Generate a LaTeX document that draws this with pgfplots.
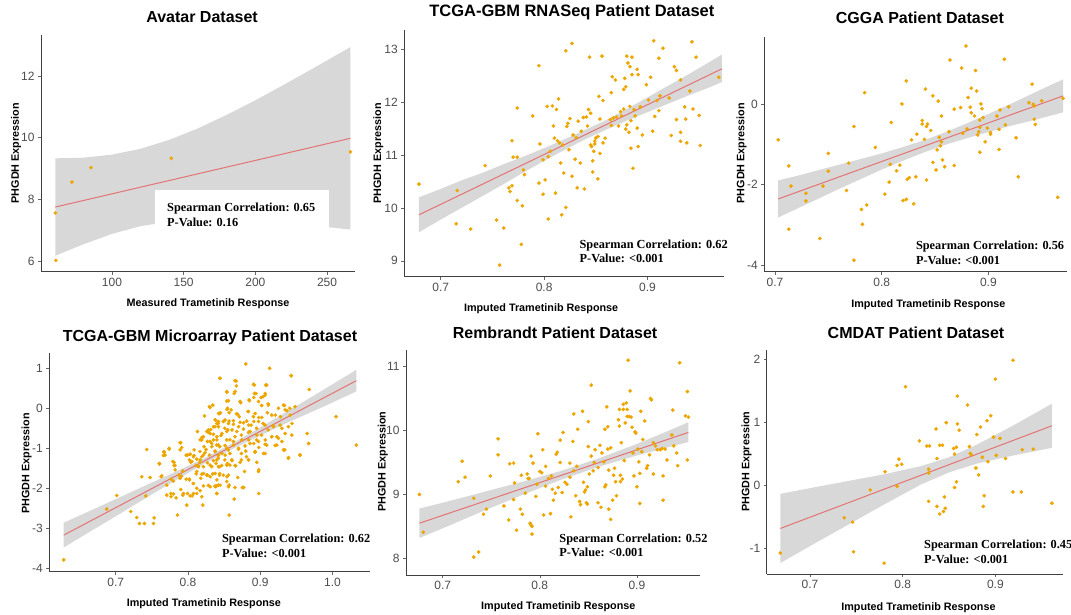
\documentclass[border=0pt]{standalone}
\usepackage{fontspec}
\setmainfont{Liberation Sans}
\newfontfamily\timesb{Liberation Serif}
\usepackage{pgfplots}
\pgfplotsset{compat=1.18}
\definecolor{ptc}{HTML}{EDA500}
\definecolor{linec}{HTML}{E47373}
\definecolor{bandc}{HTML}{D8D8D8}
\definecolor{tickc}{HTML}{4D4D4D}
\tikzset{note/.style={anchor=west, font=\timesb\bfseries\fontsize{12.3}{14}\selectfont, inner sep=0pt}}
\pgfplotsset{
 panel/.style={
  scale only axis, anchor=south west, clip=false,
  axis x line*=bottom, axis y line*=left,
  axis line style={-, draw=black!75, line width=0.8pt},
  every tick/.style={draw=black!60, line width=0.6pt},
  tick align=outside, major tick length=3pt,
  tick label style={font=\fontsize{12}{14}\selectfont, text=tickc},
  /pgf/number format/assume math mode=true,
  title style={font=\bfseries\fontsize{16}{19}\selectfont, anchor=center},
  xlabel style={font=\bfseries\fontsize{10.8}{13}\selectfont, anchor=center},
  ylabel style={font=\bfseries\fontsize{10.8}{13}\selectfont, anchor=center},
  xlabel={Imputed Trametinib Response},
  ylabel={PHGDH Expression},
 },
 fracx/.style={xticklabel style={/pgf/number format/.cd, fixed, fixed zerofill, precision=1}},
 band/.style={draw=none, fill=bandc, forget plot},
 fit/.style={draw=linec, line width=1pt, no marks},
 pts/.style={only marks, mark=*, color=ptc, mark size=1.7pt, mark options={solid, draw=ptc, fill=ptc, line width=0.3pt}},
}
\begin{document}
\begin{tikzpicture}
\path[use as bounding box] (0,0) rectangle (1071pt,615pt);

% ---------- Panel 1: Avatar ----------
\begin{axis}[panel, at={(41pt,343.3pt)}, width=314pt, height=236.7pt,
  xmin=50.5, xmax=269.5, ymin=5.653, ymax=13.33,
  xtick={100,150,200,250}, ytick={6,8,10,12},
  title={Avatar Dataset}, title style={at={(axis description cs:0.513,1.051)}},
  xlabel={Measured Trametinib Response},
  xlabel style={at={(axis description cs:0.532,-0.1365)}},
  ylabel style={at={(axis description cs:-0.0796,0.501)}}]
\addplot[band] coordinates {(60.5,9.33) (80,9.35) (100,9.45) (120,9.64) (140,9.93) (160,10.30) (180,10.74) (200,11.21) (220,11.72) (240,12.24) (266.3,12.94)
 (266.3,7.02) (240,7.15) (220,7.24) (200,7.30) (180,7.35) (160,7.35) (140,7.28) (120,7.13) (100,6.88) (80,6.54) (60.5,6.17)} -- cycle;
\fill[white] (axis cs:130.2,6.9) rectangle (axis cs:251.2,8.31);
\addplot[fit] coordinates {(60.5,7.75) (266.3,9.98)};
\addplot[pts] coordinates {(60.5,7.56) (60.9,6.02) (72.1,8.56) (85.3,9.03) (141.4,9.33) (266.3,9.54)};
\node[note] at (axis cs:138.4,7.70) {Spearman Correlation: 0.65};
\node[note] at (axis cs:138.4,7.26) {P-Value: 0.16};
\end{axis}

% ---------- Panel 2: TCGA-GBM RNASeq ----------
\begin{axis}[panel, fracx, at={(404.3pt,338.3pt)}, width=319.7pt, height=246.7pt,
  xmin=0.6648, xmax=0.974, ymin=8.70, ymax=13.364,
  xtick={0.7,0.8,0.9}, ytick={9,10,11,12,13},
  title={TCGA-GBM RNASeq Patient Dataset}, title style={at={(axis description cs:0.524,1.049)}, font=\bfseries\fontsize{16.5}{19}\selectfont},
  xlabel style={at={(axis description cs:0.428,-0.131)}},
  ylabel style={at={(axis description cs:-0.081,0.5)}}]
\addplot[band] coordinates {(0.679,10.20) (0.70,10.36) (0.72,10.52) (0.74,10.66) (0.76,10.82) (0.78,10.97) (0.80,11.13) (0.82,11.30) (0.84,11.48) (0.86,11.66) (0.88,11.87) (0.90,12.09) (0.92,12.31) (0.94,12.53) (0.96,12.76) (0.972,12.90)
 (0.972,12.38) (0.96,12.28) (0.94,12.13) (0.92,11.97) (0.90,11.81) (0.88,11.65) (0.86,11.48) (0.84,11.30) (0.82,11.10) (0.80,10.89) (0.78,10.67) (0.76,10.44) (0.74,10.22) (0.72,10.00) (0.70,9.78) (0.679,9.54)} -- cycle;
\addplot[fit] coordinates {(0.679,9.87) (0.972,12.63)};
\addplot[pts] coordinates {
(0.679,10.45) (0.716,10.33) (0.715,9.70) (0.729,9.60) (0.743,10.80) (0.754,9.77) (0.757,8.92) (0.761,9.62)
(0.766,10.38) (0.767,10.31) (0.769,10.42) (0.769,11.27) (0.770,10.96) (0.774,10.96) (0.774,11.89) (0.774,10.14)
(0.778,9.31) (0.779,10.04) (0.780,10.72) (0.781,10.63) (0.789,11.74) (0.795,12.69) (0.795,10.47) (0.796,11.21)
(0.799,10.91) (0.799,10.26) (0.801,10.53) (0.803,11.92) (0.804,10.97) (0.804,9.79) (0.806,11.07) (0.808,11.93)
(0.809,11.55) (0.810,11.32) (0.811,10.28) (0.812,11.86) (0.813,11.27) (0.814,12.06) (0.815,11.23) (0.816,10.85)
(0.817,9.87) (0.818,11.19) (0.819,10.66) (0.821,12.97) (0.821,10.01) (0.822,11.54) (0.823,11.60) (0.824,11.10)
(0.825,11.69) (0.827,13.11) (0.827,10.60) (0.828,11.38) (0.830,10.92) (0.831,11.33) (0.832,10.38) (0.833,11.64)
(0.835,10.85) (0.836,11.45) (0.838,11.71) (0.839,10.36) (0.841,11.72) (0.842,11.55) (0.843,11.86) (0.844,12.85)
(0.845,11.19) (0.845,11.79) (0.846,11.16) (0.847,10.89) (0.848,11.07) (0.847,10.68) (0.849,11.21) (0.849,11.26)
(0.850,11.32) (0.852,10.55) (0.852,11.35) (0.853,12.11) (0.854,11.68) (0.854,11.03) (0.856,12.87) (0.857,11.23)
(0.857,12.03) (0.859,11.32) (0.864,11.67) (0.865,11.56) (0.865,12.18) (0.866,12.48) (0.867,11.70) (0.869,12.42)
(0.870,11.72) (0.872,11.55) (0.874,11.82) (0.875,11.74) (0.877,11.87) (0.877,12.24) (0.878,12.45) (0.879,12.29)
(0.879,11.49) (0.880,11.57) (0.880,12.87) (0.881,12.74) (0.882,11.43) (0.883,12.67) (0.883,11.92) (0.884,11.65)
(0.884,11.13) (0.885,12.52) (0.885,12.85) (0.886,10.75) (0.887,11.86) (0.888,11.74) (0.890,11.51) (0.890,12.62)
(0.891,12.52) (0.891,11.16) (0.893,11.91) (0.895,11.38) (0.899,12.33) (0.901,12.04) (0.903,12.47) (0.905,11.45)
(0.906,13.16) (0.907,11.73) (0.909,12.03) (0.911,11.84) (0.911,12.83) (0.912,12.12) (0.915,13.02) (0.921,12.08)
(0.923,11.37) (0.926,12.67) (0.928,12.60) (0.928,11.67) (0.932,12.42) (0.932,11.43) (0.932,11.26) (0.936,11.91)
(0.937,11.68) (0.938,11.23) (0.941,12.21) (0.943,13.14) (0.944,11.87) (0.947,12.85) (0.950,11.75) (0.951,11.18)
(0.969,12.47)};
\node[note] at (axis cs:0.8342,9.29) {Spearman Correlation: 0.62};
\node[note] at (axis cs:0.8342,9.04) {P-Value: <0.001};
\end{axis}

% ---------- Panel 3: CGGA ----------
\begin{axis}[panel, fracx, at={(764.3pt,343.3pt)}, width=302.7pt, height=235pt,
  xmin=0.690, xmax=0.9737, ymin=-4.166, ymax=1.67,
  xtick={0.7,0.8,0.9}, ytick={-4,-2,0},
  title={CGGA Patient Dataset}, title style={at={(axis description cs:0.514,1.057)}},
  xlabel style={at={(axis description cs:0.542,-0.142)}},
  ylabel style={at={(axis description cs:-0.0747,0.504)}}]
\addplot[band] coordinates {(0.703,-1.90) (0.72,-1.79) (0.74,-1.65) (0.76,-1.51) (0.78,-1.37) (0.80,-1.23) (0.82,-1.07) (0.84,-0.90) (0.86,-0.70) (0.88,-0.48) (0.90,-0.25) (0.92,-0.01) (0.94,0.24) (0.96,0.49) (0.970,0.61)
 (0.970,-0.21) (0.96,-0.28) (0.94,-0.42) (0.92,-0.55) (0.90,-0.70) (0.88,-0.85) (0.86,-1.01) (0.84,-1.20) (0.82,-1.41) (0.80,-1.63) (0.78,-1.87) (0.76,-2.11) (0.74,-2.36) (0.72,-2.61) (0.703,-2.82)} -- cycle;
\addplot[fit] coordinates {(0.703,-2.36) (0.970,0.20)};
\addplot[pts] coordinates {
(0.703,-0.89) (0.713,-1.54) (0.713,-3.11) (0.715,-2.04) (0.729,-2.22) (0.729,-2.41) (0.742,-3.34) (0.745,-2.04)
(0.750,-1.23) (0.750,-1.67) (0.767,-2.15) (0.769,-1.47) (0.774,-0.56) (0.774,-3.88) (0.781,-2.62) (0.782,-2.99)
(0.784,0.28) (0.786,-2.51) (0.794,-1.08) (0.803,-2.24) (0.807,-1.94) (0.808,-1.50) (0.809,-0.46) (0.814,-1.66)
(0.817,-1.52) (0.819,0.00) (0.820,-2.40) (0.823,-2.37) (0.823,0.57) (0.824,-1.87) (0.826,-1.83) (0.828,-0.89)
(0.830,-2.48) (0.832,-1.81) (0.833,-0.75) (0.838,-0.41) (0.838,-0.50) (0.840,-0.88) (0.841,0.37) (0.842,-0.56)
(0.842,-1.89) (0.843,-0.50) (0.846,-0.66) (0.848,-1.45) (0.848,0.20) (0.851,-1.64) (0.852,-1.14) (0.853,0.07)
(0.854,-0.83) (0.855,-1.04) (0.856,-0.94) (0.856,-0.30) (0.857,-1.39) (0.859,-1.56) (0.863,-0.69) (0.864,1.09)
(0.868,-0.13) (0.868,-1.53) (0.874,-0.09) (0.875,0.89) (0.876,-0.73) (0.879,1.44) (0.880,-0.62) (0.881,0.16)
(0.883,-0.08) (0.884,-0.22) (0.884,0.39) (0.887,-0.30) (0.888,0.83) (0.889,0.32) (0.890,-0.77) (0.891,-0.69)
(0.892,-0.58) (0.892,-1.20) (0.892,-0.40) (0.893,0.00) (0.894,-0.12) (0.895,-0.34) (0.897,-0.94) (0.899,-0.60)
(0.902,-0.71) (0.902,-0.75) (0.908,-0.30) (0.910,-0.63) (0.910,-1.13) (0.911,-0.15) (0.915,1.11) (0.916,-0.52)
(0.919,-0.07) (0.926,-0.84) (0.928,-1.81) (0.938,0.03) (0.941,0.49) (0.942,-0.01) (0.943,-0.05) (0.943,-0.38)
(0.944,-0.51) (0.950,0.08) (0.965,-2.32) (0.970,0.14)};
\node[note] at (axis cs:0.832,-3.54) {Spearman Correlation: 0.56};
\node[note] at (axis cs:0.832,-3.88) {P-Value: <0.001};
\end{axis}

% ---------- Panel 4: TCGA-GBM Microarray ----------
\begin{axis}[panel, fracx, at={(49.3pt,43.3pt)}, width=320.7pt, height=218.4pt,
  xmin=0.608, xmax=1.052, ymin=-4.085, ymax=1.375,
  xtick={0.7,0.8,0.9,1.0}, ytick={-4,-3,-2,-1,0,1},
  title={TCGA-GBM Microarray Patient Dataset}, title style={at={(axis description cs:0.501,1.046)}},
  xlabel style={at={(axis description cs:0.482,-0.145)}},
  ylabel style={at={(axis description cs:-0.0705,0.496)}}]
\addplot[band] coordinates {(0.628,-2.86) (0.66,-2.60) (0.70,-2.27) (0.74,-1.94) (0.78,-1.61) (0.82,-1.27) (0.86,-0.89) (0.90,-0.48) (0.94,-0.05) (0.98,0.38) (1.033,0.96)
 (1.033,0.42) (0.98,-0.02) (0.94,-0.34) (0.90,-0.68) (0.86,-1.03) (0.82,-1.41) (0.78,-1.83) (0.74,-2.26) (0.70,-2.70) (0.66,-3.13) (0.628,-3.48)} -- cycle;
\addplot[fit] coordinates {(0.628,-3.17) (1.033,0.69)};
\addplot[pts] coordinates {
(0.628,-3.79) (0.6875,-2.52) (0.7014,-2.18) (0.7208,-2.58) (0.7291,-2.73) (0.7328,-2.88) (0.7397,-2.88) (0.7416,-2.19)
(0.7429,-1.03) (0.7522,-2.88) (0.7531,-2.74) (0.7360,-1.71) (0.7476,-1.73) (0.7605,-1.39) (0.7628,-1.71) (0.7669,-1.08)
(0.7660,-1.18) (0.7739,-1.00) (0.7766,-1.77) (0.7706,-1.92) (0.7789,-1.33) (0.7808,-1.43) (0.7891,-0.86) (0.7914,-0.98)
(0.7891,-1.04) (0.7822,-1.54) (0.7873,-1.67) (0.7910,-1.70) (0.7928,-1.57) (0.7762,-2.13) (0.7706,-2.17) (0.7766,-2.21)
(0.7799,-2.14) (0.7836,-2.24) (0.7937,-2.13) (0.7900,-2.03) (0.7928,-2.17) (0.7993,-2.13) (0.8030,-2.19) (0.8057,-2.19)
(0.8076,-2.13) (0.7993,-1.17) (0.8030,-1.15) (0.8076,-1.21) (0.8020,-1.29) (0.8085,-1.04) (0.8053,-1.33) (0.8122,-1.27)
(0.8140,-1.44) (0.8168,-1.29) (0.8191,-1.21) (0.8214,-1.17) (0.8131,-0.58) (0.8168,-0.79) (0.8191,-0.73) (0.8223,-0.96)
(0.8251,-1.03) (0.8260,-0.58) (0.8284,-0.54) (0.8307,-0.63) (0.8307,-0.83) (0.8330,-0.96) (0.8353,-0.79) (0.8297,0.04)
(0.8376,-0.29) (0.8399,-0.38) (0.8353,-0.46) (0.8422,-0.13) (0.8422,-0.46) (0.8399,-0.71) (0.8422,-0.92) (0.8376,-1.08)
(0.8145,-1.46) (0.8113,-1.64) (0.8020,-1.77) (0.8177,-1.75) (0.8214,-1.63) (0.8260,-1.67) (0.8307,-1.71) (0.8376,-1.63)
(0.8422,-1.46) (0.8353,-1.31) (0.8399,-1.29) (0.8330,-1.46) (0.8270,-1.36) (0.8307,-1.96) (0.8376,-1.96) (0.8399,-1.94)
(0.8214,-1.94) (0.8122,-2.00) (0.8168,-2.06) (0.8122,-2.13) (0.8191,-2.21) (0.7983,-2.42) (0.7854,-2.67) (0.8205,-2.42)
(0.8399,-2.13) (0.7974,-1.77) (0.7891,-1.75)
(0.880,1.11) (0.913,1.00) (0.943,0.82) (0.968,0.47) (0.844,0.75) (0.865,0.69) (0.867,0.56) (0.864,0.37)
(0.854,0.40) (0.892,0.58) (0.909,0.58) (0.894,0.37) (0.907,0.37) (0.904,0.29) (0.891,0.27) (0.856,0.19)
(0.873,0.14) (0.885,0.19) (0.902,0.07) (0.911,0.11) (0.932,0.08) (0.941,0.00) (0.845,-0.11) (0.854,-0.03)
(0.857,-0.11) (0.867,-0.14) (0.871,-0.21) (0.883,-0.08) (0.893,-0.13) (0.898,-0.23) (0.910,-0.11) (0.921,-0.17)
(0.928,-0.21) (0.937,-0.06) (0.944,-0.38) (0.930,-0.50) (0.939,-0.46) (0.838,-0.29) (0.842,-0.38) (0.849,-0.33)
(0.856,-0.38) (0.863,-0.31) (0.851,-0.50) (0.861,-0.54) (0.870,-0.46) (0.877,-0.36) (0.884,-0.42) (0.891,-0.33)
(0.886,-0.58) (0.895,-0.50) (0.904,-0.38) (0.911,-0.54) (0.918,-0.44) (0.923,-0.71) (0.916,-0.71) (0.902,-0.67)
(0.907,-0.79) (0.895,-0.79) (0.884,-0.79) (0.874,-0.67) (0.865,-0.71) (0.858,-0.79) (0.847,-0.63) (0.840,-0.79)
(0.844,-0.96) (0.854,-1.00) (0.863,-0.92) (0.870,-1.00) (0.879,-0.94) (0.891,-0.88) (0.898,-0.98) (0.909,-0.92)
(0.923,-0.92) (0.930,-0.83) (0.934,-1.04) (0.965,-0.63) (0.967,-0.88) (0.955,-1.17) (0.939,-1.25) (0.907,-1.13)
(0.893,-1.08) (0.881,-1.21) (0.874,-1.13) (0.858,-1.13) (0.847,-1.13) (0.842,-1.25) (0.851,-1.29) (0.861,-1.31)
(0.874,-1.29) (0.884,-1.29) (0.844,-1.46) (0.858,-1.42) (0.866,-1.44) (0.849,-1.67) (0.854,-1.71) (0.840,-1.79)
(0.842,-1.92) (0.856,-1.96) (0.865,-1.98) (0.877,-1.98) (0.898,-1.54) (0.898,-2.13) (0.864,-2.27) (0.857,-2.67)
(0.840,-2.13) (0.844,-1.63) (1.005,-0.21) (1.033,-0.92)
(0.8445,0.75) (0.8537,0.42) (0.8343,0.08) (0.8306,0.02) (0.8228,-0.19) (0.8435,-0.13) (0.8546,0.00) (0.8421,-0.33)
(0.8514,-0.29) (0.8375,-0.46) (0.8315,-0.53) (0.8283,-0.60) (0.8214,-0.71) (0.8352,-0.65) (0.8458,-0.68) (0.8537,-0.58)
(0.8191,-0.79) (0.8269,-0.83) (0.8329,-0.88) (0.8398,-0.92) (0.8514,-0.93) (0.7900,-0.86) (0.7738,-1.02) (0.7669,-1.10)
(0.7683,-1.17) (0.7974,-1.17) (0.8029,-1.15) (0.8084,-1.18) (0.8167,-1.08) (0.8237,-1.11) (0.8297,-1.17) (0.8375,-1.07)
(0.8421,-1.18) (0.8514,-1.17) (0.7604,-1.38) (0.7807,-1.35) (0.7821,-1.43) (0.8038,-1.35) (0.8112,-1.43) (0.8167,-1.35)
(0.8214,-1.46) (0.8306,-1.42) (0.8389,-1.38) (0.8468,-1.43) (0.8546,-1.38) (0.8121,-1.58) (0.8191,-1.65) (0.8269,-1.67)
(0.8343,-1.64) (0.8435,-1.67) (0.7637,-1.69) (0.7798,-1.82) (0.8020,-1.79) (0.8075,-1.88) (0.8283,-1.93) (0.8375,-1.94)
(0.8445,-1.92) (0.8537,-1.83)
(0.9428,0.81) (0.8666,0.68) (0.8906,0.60) (0.9077,0.58) (0.8653,0.42) (0.8920,0.37) (0.9013,0.27) (0.9068,0.33)
(0.8537,0.18) (0.8722,0.17) (0.8846,0.21) (0.8976,0.17) (0.9114,0.08) (0.9253,0.00) (0.9336,0.07) (0.9483,0.04)
(0.8597,-0.04) (0.8689,-0.15) (0.8837,-0.08) (0.8906,-0.21) (0.9022,-0.23) (0.9160,-0.17) (0.9345,-0.04) (0.9414,-0.17)
(0.8569,-0.32) (0.8629,-0.40) (0.8722,-0.35) (0.8814,-0.32) (0.8874,-0.42) (0.8976,-0.33) (0.9068,-0.42) (0.9183,-0.46)
(0.9276,-0.42) (0.8551,-0.54) (0.8676,-0.58) (0.8768,-0.52) (0.8837,-0.60) (0.8953,-0.67) (0.9160,-0.71) (0.9253,-0.75)
(0.9345,-0.63) (0.9437,-0.67) (0.8537,-0.79) (0.8629,-0.83) (0.8745,-0.79) (0.8860,-0.88) (0.8976,-0.83) (0.9068,-0.90)
(0.9207,-0.93) (0.9322,-1.04) (0.9391,-1.23) (0.9553,-1.17) (0.8560,-1.04) (0.8699,-1.02) (0.8800,-1.07) (0.8929,-1.10)
(0.9045,-1.13) (0.8606,-1.29) (0.8722,-1.35) (0.8837,-1.29) (0.8953,-1.35) (0.8537,-1.42) (0.8653,-1.43) (0.8782,-1.58)
(0.8976,-1.58) (0.8560,-1.67) (0.8689,-1.73) (0.8754,-1.98) (0.8569,-1.92)};
\node[note] at (axis cs:0.847,-3.275) {Spearman Correlation: 0.62};
\node[note] at (axis cs:0.847,-3.625) {P-Value: <0.001};
\end{axis}

% ---------- Panel 5: Rembrandt ----------
\begin{axis}[panel, fracx, at={(406pt,40pt)}, width=294pt, height=225pt,
  xmin=0.6622, xmax=0.965, ymin=7.74, ymax=11.26,
  xtick={0.7,0.8,0.9}, ytick={8,9,10,11},
  title={Rembrandt Patient Dataset}, title style={at={(axis description cs:0.507,1.052)}},
  xlabel style={at={(axis description cs:0.518,-0.141)}},
  ylabel style={at={(axis description cs:-0.079,0.504)}}]
\addplot[band] coordinates {(0.676,8.78) (0.70,8.87) (0.74,9.03) (0.78,9.19) (0.82,9.36) (0.86,9.56) (0.90,9.79) (0.93,9.98) (0.953,10.13)
 (0.953,9.82) (0.93,9.73) (0.90,9.61) (0.86,9.43) (0.82,9.22) (0.78,8.98) (0.74,8.73) (0.70,8.47) (0.676,8.32)} -- cycle;
\addplot[fit] coordinates {(0.676,8.55) (0.953,9.97)};
\addplot[pts] coordinates {
(0.676,9.00) (0.680,8.41) (0.716,9.20) (0.720,9.52) (0.723,9.27) (0.732,8.94) (0.732,8.02) (0.737,8.10)
(0.742,8.69) (0.745,8.77) (0.749,9.29) (0.757,9.62) (0.757,9.87) (0.763,8.82) (0.768,8.60) (0.769,9.48)
(0.773,9.49) (0.773,8.92) (0.774,9.18) (0.776,8.44) (0.780,8.77) (0.781,9.30) (0.782,8.69) (0.785,9.02)
(0.787,9.32) (0.788,9.25) (0.789,9.25) (0.790,8.55) (0.791,9.60) (0.791,8.52) (0.792,8.38) (0.792,8.50)
(0.793,9.49) (0.796,8.97) (0.797,9.16) (0.798,9.95) (0.800,9.36) (0.802,9.34) (0.803,9.70) (0.804,8.68)
(0.806,9.13) (0.806,9.44) (0.809,9.25) (0.811,8.70) (0.812,9.29) (0.813,9.08) (0.814,8.91) (0.816,9.02)
(0.817,9.63) (0.818,9.66) (0.819,9.11) (0.821,9.85) (0.821,9.50) (0.823,9.03) (0.824,9.97) (0.826,9.19)
(0.828,9.16) (0.831,9.27) (0.831,9.49) (0.832,8.65) (0.834,9.83) (0.835,10.26) (0.835,9.37) (0.837,8.98)
(0.838,9.44) (0.839,10.02) (0.841,8.89) (0.842,8.84) (0.844,10.30) (0.845,9.19) (0.846,9.04) (0.847,9.07)
(0.848,8.87) (0.849,9.12) (0.849,8.85) (0.850,10.14) (0.850,9.75) (0.851,9.32) (0.853,10.71) (0.853,9.60)
(0.855,9.37) (0.856,9.50) (0.857,9.70) (0.860,8.87) (0.860,9.42) (0.862,9.77) (0.863,8.80) (0.864,9.65)
(0.866,9.51) (0.867,10.02) (0.867,9.12) (0.868,9.15) (0.869,10.37) (0.870,9.71) (0.870,10.06) (0.871,8.77)
(0.871,9.38) (0.873,8.61) (0.873,9.73) (0.875,8.91) (0.876,9.30) (0.877,9.41) (0.878,9.20) (0.879,8.98)
(0.881,10.17) (0.882,10.33) (0.882,10.07) (0.883,9.30) (0.883,9.20) (0.884,9.81) (0.885,9.24) (0.886,10.41)
(0.886,10.33) (0.887,9.53) (0.888,10.12) (0.889,10.43) (0.890,10.33) (0.890,10.22) (0.891,11.10) (0.892,10.22)
(0.893,10.62) (0.894,10.21) (0.895,10.05) (0.896,9.65) (0.897,9.29) (0.898,9.98) (0.899,9.96) (0.900,9.12)
(0.901,9.71) (0.902,9.51) (0.903,9.33) (0.903,8.86) (0.904,10.30) (0.905,9.67) (0.906,9.86) (0.908,10.15)
(0.910,9.41) (0.911,9.45) (0.913,9.62) (0.914,10.50) (0.915,10.48) (0.917,9.32) (0.917,9.81) (0.919,9.76)
(0.921,9.70) (0.924,9.70) (0.926,9.72) (0.927,8.91) (0.927,9.29) (0.929,9.71) (0.931,9.54) (0.936,9.93)
(0.937,10.32) (0.938,9.76) (0.941,9.65) (0.942,9.45) (0.944,11.06) (0.950,10.23) (0.952,10.61) (0.952,9.54)
(0.953,10.21)};
\node[note] at (axis cs:0.820,8.30) {Spearman Correlation: 0.52};
\node[note] at (axis cs:0.820,8.09) {P-Value: <0.001};
\end{axis}

% ---------- Panel 6: CMDAT ----------
\begin{axis}[panel, fracx, at={(766.7pt,41pt)}, width=296.3pt, height=224pt,
  xmin=0.6533, xmax=0.973, ymin=-1.413, ymax=2.143,
  xtick={0.7,0.8,0.9}, ytick={-1,0,1,2},
  title={CMDAT Patient Dataset}, title style={at={(axis description cs:0.504,1.052)}},
  xlabel style={at={(axis description cs:0.512,-0.149)}},
  ylabel style={at={(axis description cs:-0.0675,0.501)}}]
\addplot[band] coordinates {(0.668,-0.14) (0.70,-0.05) (0.74,0.06) (0.78,0.17) (0.82,0.30) (0.85,0.44) (0.88,0.64) (0.92,0.95) (0.961,1.29)
 (0.961,0.59) (0.92,0.47) (0.88,0.34) (0.85,0.20) (0.82,0.01) (0.78,-0.31) (0.74,-0.64) (0.70,-0.97) (0.668,-1.24)} -- cycle;
\addplot[fit] coordinates {(0.668,-0.69) (0.961,0.94)};
\addplot[pts] coordinates {
(0.668,-1.08) (0.737,-0.52) (0.746,-0.59) (0.747,-1.06) (0.765,-0.08) (0.780,-1.24) (0.781,0.21) (0.794,0.31)
(0.794,-0.02) (0.796,0.41) (0.799,0.33) (0.803,1.56) (0.818,0.70) (0.826,0.62) (0.828,-0.26) (0.828,0.25)
(0.828,0.19) (0.829,0.62) (0.836,0.89) (0.837,0.42) (0.837,-0.34) (0.840,-0.46) (0.840,0.63) (0.843,0.63)
(0.844,-0.42) (0.845,-0.19) (0.846,-0.37) (0.847,0.99) (0.855,0.58) (0.856,0.49) (0.856,-0.04) (0.858,0.05)
(0.858,0.60) (0.859,1.41) (0.859,0.97) (0.861,0.87) (0.870,1.27) (0.872,0.61) (0.873,0.50) (0.874,0.48)
(0.879,0.27) (0.880,0.80) (0.882,0.16) (0.884,0.92) (0.886,0.44) (0.887,-0.34) (0.888,-0.17) (0.891,1.02)
(0.892,0.37) (0.895,1.10) (0.898,0.76) (0.900,1.68) (0.901,0.47) (0.905,0.74) (0.911,0.42) (0.919,-0.11)
(0.919,1.98) (0.928,-0.11) (0.929,0.56) (0.941,0.57) (0.961,-0.29)};
\node[note] at (axis cs:0.823,-0.963) {Spearman Correlation: 0.45};
\node[note] at (axis cs:0.823,-1.18) {P-Value: <0.001};
\end{axis}
\end{tikzpicture}
\end{document}
